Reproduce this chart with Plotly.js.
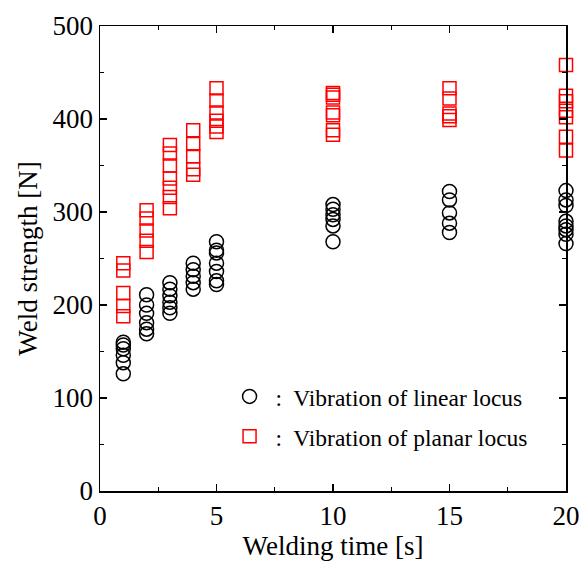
<!DOCTYPE html>
<html>
<head>
<meta charset="utf-8">
<script src="https://cdn.plot.ly/plotly-3.0.1.min.js"></script>
<style>html,body{margin:0;padding:0;background:#fff;}#chart{width:586px;height:563px;}</style>
</head>
<body>
<div id="chart"></div>
<script>
// Welding time [s] for each group
const linearTimes = [1,1,1,1,1,1, 2,2,2,2,2,2, 3,3,3,3,3,3, 4,4,4,4,4, 5,5,5,5,5,5,5, 10,10,10,10,10,10, 15,15,15,15,15, 20,20,20,20,20,20,20,20];
const linearStrength = [160,157,153,146,138,126, 211,200,191,181,174,169, 224,217,210,203,197,191, 245,238,231,224,217, 268,259,256,245,236,226,222, 308,303,297,292,285,268, 322,313,299,288,278, 323,313,307,290,285,281,276,266];
const planarTimes = [1,1,1,1,1, 2,2,2,2,2, 3,3,3,3,3,3,3, 4,4,4,4,4, 5,5,5,5,5,5, 10,10,10,10,10,10,10, 15,15,15,15,15, 20,20,20,20,20,20,20];
const planarStrength = [245,237,213,199,188, 302,293,280,269,257, 372,363,350,336,326,316,304, 388,373,360,346,340, 433,420,407,398,392,386, 428,426,423,407,404,388,383, 433,422,406,403,399, 458,425,419,409,402,381,366];
const linearName = ' :  Vibration of linear locus';
const planarName = ' :  Vibration of planar locus';
const xTickVals = [0,5,10,15,20];
const yTickVals = [0,100,200,300,400,500];

const FONT = '"Liberation Serif", "Times New Roman", serif';

const traces = [
  {
    x: linearTimes, y: linearStrength, type: 'scatter', mode: 'markers', name: linearName,
    legend: 'legend',
    marker: {symbol: 'circle-open', size: 14, color: '#000000', line: {width: 1.5, color: '#000000'}},
    cliponaxis: false
  },
  {
    x: planarTimes, y: planarStrength, type: 'scatter', mode: 'markers', name: planarName,
    legend: 'legend2',
    marker: {symbol: 'square-open', size: 13, color: '#ff0000', line: {width: 1.5, color: '#ff0000'}},
    cliponaxis: false
  }
];

const axisCommon = {
  showline: true, linecolor: '#000', linewidth: 1.5, mirror: 'allticks',
  ticks: 'inside', ticklen: 7, tickwidth: 1.2, tickcolor: '#000',
  showgrid: false, zeroline: false,
  tickfont: {family: FONT, size: 27, color: '#000'}
};

const layout = {
  width: 586, height: 563,
  margin: {l: 100, r: 20, t: 26, b: 72},
  paper_bgcolor: '#fff', plot_bgcolor: '#fff',
  font: {family: FONT, color: '#000'},
  xaxis: Object.assign({}, axisCommon, {
    range: [0, 20], tickvals: xTickVals, ticktext: xTickVals.map(String),
    minor: {tickvals: [2.5,7.5,12.5,17.5], ticks: 'inside', ticklen: 4, tickcolor: '#000', tickwidth: 1},
    title: {text: 'Welding time [s]', font: {family: FONT, size: 27, color: '#000'}, standoff: 5}
  }),
  yaxis: Object.assign({}, axisCommon, {
    range: [0, 500], tickvals: yTickVals, ticktext: yTickVals.map(String),
    minor: {tickvals: [50,150,250,350,450], ticks: 'inside', ticklen: 4, tickcolor: '#000', tickwidth: 1},
    title: {text: 'Weld strength [N]', font: {family: FONT, size: 27, color: '#000'}, standoff: 7}
  }),
  showlegend: true,
  legend: {x: 0.278, y: 0.203, xanchor: 'left', yanchor: 'middle', bgcolor: 'rgba(0,0,0,0)',
           font: {family: FONT, size: 23.5, color: '#000'}, itemsizing: 'trace'},
  legend2: {x: 0.278, y: 0.117, xanchor: 'left', yanchor: 'middle', bgcolor: 'rgba(0,0,0,0)',
           font: {family: FONT, size: 23.5, color: '#000'}, itemsizing: 'trace'}
};

Plotly.newPlot('chart', traces, layout, {displayModeBar: false, staticPlot: true});
</script>
</body>
</html>
